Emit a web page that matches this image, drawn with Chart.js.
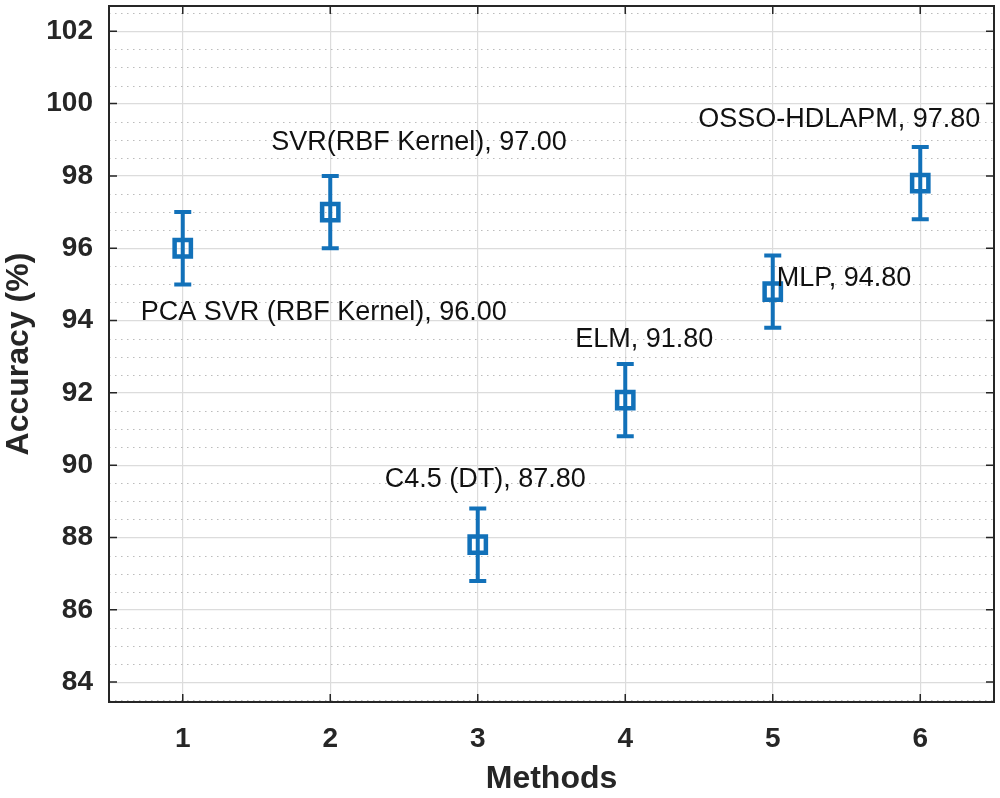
<!DOCTYPE html>
<html><head><meta charset="utf-8">
<script src="https://cdn.jsdelivr.net/npm/chart.js@4"></script>
<style>html,body{margin:0;padding:0;background:#fff;}</style>
</head><body>
<canvas id="c" width="1000" height="798"></canvas>
<script>
// ---- data ----
const methodIndex = [1, 2, 3, 4, 5, 6];
const methodNames = ['PCA SVR (RBF Kernel)', 'SVR(RBF Kernel)', 'C4.5 (DT)', 'ELM', 'MLP', 'OSSO-HDLAPM'];
const accuracy = [96.0, 97.0, 87.8, 91.8, 94.8, 97.8];
const errorLow = [1, 1, 1, 1, 1, 1];
const errorHigh = [1, 1, 1, 1, 1, 1];
const xTickValues = [1, 2, 3, 4, 5, 6];
const yTickValues = [84, 86, 88, 90, 92, 94, 96, 98, 100, 102];
const yMinorStep = 0.5;

// ---- styling / annotation placement (pixel offsets from each point) ----
const labelOffsets = [[-42, 72], [-59, -62], [-93, -58], [-50, -53], [4, -6], [-222, -56]];
const FONT = '"Liberation Sans", Arial, sans-serif';
const BLUE = '#1271b9';
const AXIS = '#262626';
const GRID = '#dcdcdc';
const MINOR = '#bcbcbc';

const errPlugin = {
  id: 'errbars',
  beforeDatasetsDraw(chart) {
    const {ctx, chartArea: a, scales: {x, y}} = chart;
    ctx.save();
    ctx.strokeStyle = MINOR; ctx.lineWidth = 1.2; ctx.setLineDash([1.5, 4.5]);
    for (let v = Math.ceil(y.min / yMinorStep) * yMinorStep; v <= y.max; v += yMinorStep) {
      if (yTickValues.includes(v)) continue;
      const py = Math.round(y.getPixelForValue(v)) + 0.5;
      ctx.beginPath(); ctx.moveTo(a.left, py); ctx.lineTo(a.right, py); ctx.stroke();
    }
    ctx.setLineDash([]);
    ctx.strokeStyle = BLUE; ctx.lineWidth = 4; ctx.lineCap = 'butt';
    for (let i = 0; i < methodIndex.length; i++) {
      const px = x.getPixelForValue(methodIndex[i]);
      const pt = y.getPixelForValue(accuracy[i] + errorHigh[i]);
      const pb = y.getPixelForValue(accuracy[i] - errorLow[i]);
      ctx.beginPath();
      ctx.moveTo(px, pt - 2); ctx.lineTo(px, pb + 2);
      ctx.moveTo(px - 8.5, pt); ctx.lineTo(px + 8.5, pt);
      ctx.moveTo(px - 8.5, pb); ctx.lineTo(px + 8.5, pb);
      ctx.stroke();
    }
    ctx.restore();
  },
  afterDatasetsDraw(chart) {
    const {ctx, chartArea: a, scales: {x, y}} = chart;
    ctx.save();
    ctx.strokeStyle = AXIS; ctx.lineWidth = 2;
    ctx.strokeRect(a.left, a.top, a.right - a.left, a.bottom - a.top);
    ctx.lineWidth = 1.5;
    ctx.beginPath();
    yTickValues.forEach(v => {
      const py = y.getPixelForValue(v);
      ctx.moveTo(a.left, py); ctx.lineTo(a.left + 8, py);
      ctx.moveTo(a.right, py); ctx.lineTo(a.right - 8, py);
    });
    xTickValues.forEach(v => {
      const px = x.getPixelForValue(v);
      ctx.moveTo(px, a.top); ctx.lineTo(px, a.top + 8);
      ctx.moveTo(px, a.bottom); ctx.lineTo(px, a.bottom - 8);
    });
    ctx.stroke();
    ctx.fillStyle = '#111';
    ctx.font = '27px ' + FONT;
    ctx.textAlign = 'left'; ctx.textBaseline = 'alphabetic';
    for (let i = 0; i < methodIndex.length; i++) {
      const px = x.getPixelForValue(methodIndex[i]);
      const py = y.getPixelForValue(accuracy[i]);
      const txt = methodNames[i] + ', ' + accuracy[i].toFixed(2);
      ctx.fillText(txt, px + labelOffsets[i][0], py + labelOffsets[i][1]);
    }
    ctx.restore();
  }
};

new Chart(document.getElementById('c'), {
  type: 'scatter',
  data: {
    datasets: [{
      data: methodIndex.map((v, i) => ({x: v, y: accuracy[i]})),
      pointStyle: 'rect',
      radius: 11.5, hoverRadius: 11.5,
      borderColor: BLUE, backgroundColor: 'rgba(0,0,0,0)', borderWidth: 4.5,
      hoverBorderWidth: 4.5
    }]
  },
  options: {
    responsive: false, animation: false,
    layout: {autoPadding: false, padding: {top: 6, right: 6, left: 0, bottom: 0}},
    plugins: {legend: {display: false}, tooltip: {enabled: false}},
    scales: {
      x: {
        type: 'linear', min: 0.5, max: 6.5,
        afterBuildTicks: s => { s.ticks = xTickValues.map(v => ({value: v})); },
        afterFit: s => { s.height = 96; s.paddingLeft = 0; s.paddingRight = 0; },
        grid: {color: GRID, lineWidth: 1.2, drawTicks: false},
        border: {display: false},
        ticks: {color: AXIS, padding: 20, font: {family: FONT, size: 28, weight: 'bold'}},
        title: {display: true, text: 'Methods', color: AXIS,
          font: {family: FONT, size: 32, weight: 'bold', lineHeight: 1}, padding: {top: 0, bottom: 3}}
      },
      y: {
        type: 'linear', min: 83.45, max: 102.7,
        afterBuildTicks: s => { s.ticks = yTickValues.map(v => ({value: v})); },
        afterFit: s => { s.width = 109; s.paddingTop = 0; s.paddingBottom = 0; },
        grid: {color: GRID, lineWidth: 1.2, drawTicks: false},
        border: {display: false},
        ticks: {color: AXIS, padding: 16, font: {family: FONT, size: 28, weight: 'bold'}},
        title: {display: true, text: 'Accuracy (%)', color: AXIS,
          font: {family: FONT, size: 32, weight: 'bold', lineHeight: 1.2}, padding: {top: 0, bottom: 0}}
      }
    }
  },
  plugins: [errPlugin]
});
</script>
</body></html>
